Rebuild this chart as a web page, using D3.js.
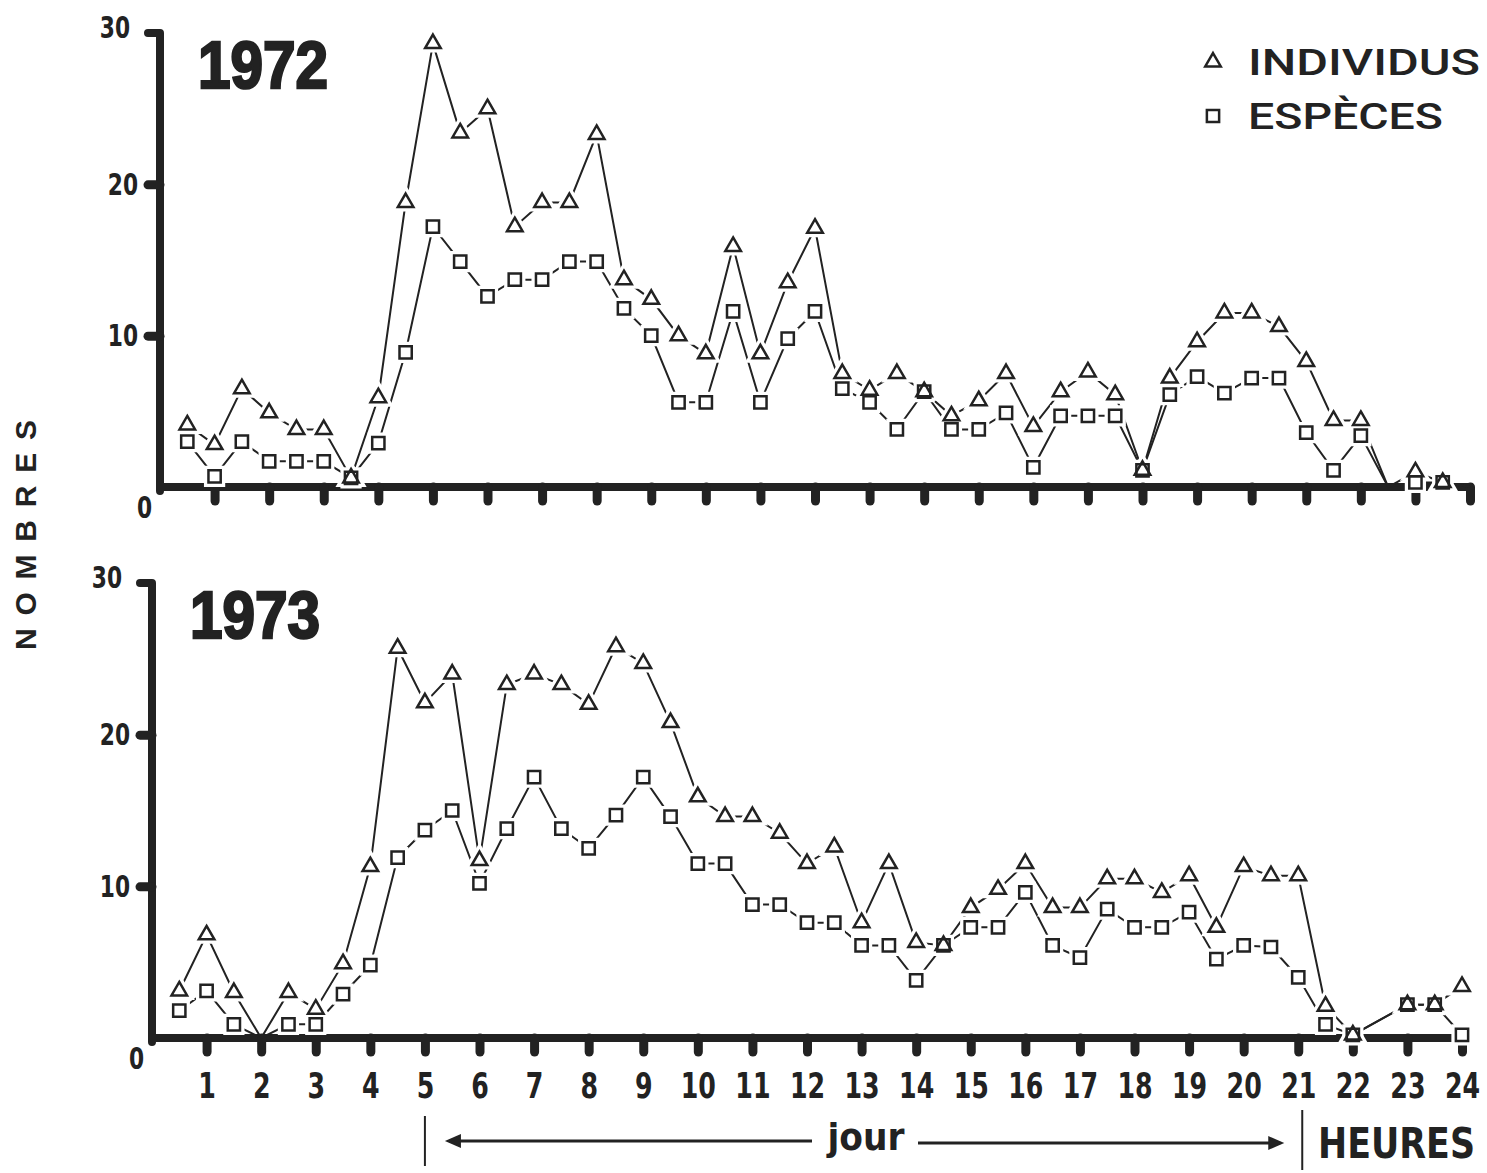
<!DOCTYPE html>
<html>
<head>
<meta charset="utf-8">
<script src="https://cdn.jsdelivr.net/npm/d3@7"></script>
<style>
  body { margin: 0; background: #fff; }
  text { fill: #222; }
</style>
</head>
<body>
<div id="chart"></div>
<script>
// half-hour sampling, 0.5 h .. 24 h
const hours = [0.5, 1, 1.5, 2, 2.5, 3, 3.5, 4, 4.5, 5, 5.5, 6, 6.5, 7, 7.5, 8,
  8.5, 9, 9.5, 10, 10.5, 11, 11.5, 12, 12.5, 13, 13.5, 14, 14.5, 15, 15.5, 16,
  16.5, 17, 17.5, 18, 18.5, 19, 19.5, 20, 20.5, 21, 21.5, 22, 22.5, 23, 23.5, 24];

const individus1972 = [4.1, 2.8, 6.5, 4.9, 3.8, 3.8, 0.6, 5.9, 18.8, 29.3, 23.4, 25.0,
  17.2, 18.8, 18.8, 23.3, 13.7, 12.4, 10.0, 8.8, 15.9, 8.8, 13.5, 17.1,
  7.5, 6.4, 7.5, 6.3, 4.7, 5.7, 7.5, 4.0, 6.3, 7.6, 6.1, 1.1,
  7.2, 9.6, 11.5, 11.5, 10.6, 8.3, 4.4, 4.4, 0, 1.0, 0.3, 0];
const especes1972 = [3.0, 0.7, 3.0, 1.7, 1.7, 1.7, 0.6, 2.9, 8.9, 17.2, 14.9, 12.6,
  13.7, 13.7, 14.9, 14.9, 11.8, 10.0, 5.6, 5.6, 11.6, 5.6, 9.8, 11.6,
  6.5, 5.6, 3.8, 6.3, 3.8, 3.8, 4.9, 1.3, 4.7, 4.7, 4.7, 1.1,
  6.1, 7.3, 6.2, 7.2, 7.2, 3.6, 1.1, 3.4, 0, 0.3, 0.3, 0];

// no reading at 22.5 h in 1973
const individus1973 = [3.1, 6.8, 3.0, 0, 3.0, 1.9, 4.9, 11.3, 25.7, 22.1, 24.0, 11.7,
  23.3, 24.0, 23.3, 22.0, 25.8, 24.7, 20.8, 15.9, 14.6, 14.6, 13.5, 11.5,
  12.6, 7.6, 11.5, 6.3, 6.1, 8.6, 9.8, 11.5, 8.6, 8.6, 10.5, 10.5,
  9.6, 10.7, 7.3, 11.3, 10.7, 10.7, 2.1, 0.2, null, 2.2, 2.2, 3.4];
const especes1973 = [1.8, 3.1, 0.9, 0, 0.9, 0.9, 2.9, 4.8, 11.9, 13.7, 15.0, 10.2,
  13.8, 17.2, 13.8, 12.5, 14.7, 17.2, 14.6, 11.5, 11.5, 8.8, 8.8, 7.6,
  7.6, 6.1, 6.1, 3.8, 6.1, 7.3, 7.3, 9.6, 6.1, 5.3, 8.5, 7.3,
  7.3, 8.3, 5.2, 6.1, 6.0, 4.0, 0.9, 0.2, null, 2.2, 2.2, 0.2];

const hourTicks = [1, 2, 3, 4, 5, 6, 7, 8, 9, 10, 11, 12, 13, 14, 15, 16, 17, 18, 19, 20, 21, 22, 23, 24];
const countTicks = [0, 10, 20, 30];
const legendLabels = ["INDIVIDUS", "ESPÈCES"];
const dayStart = 5, dayEnd = 21;

const ink = "#222";
const width = 1487, height = 1173;
const narrow = "'Liberation Sans Narrow', 'DejaVu Sans Condensed', sans-serif";
const squeeze = 0.78;   // horizontal squeeze for the condensed digits

const svg = d3.select("#chart").append("svg")
  .attr("width", width)
  .attr("height", height)
  .style("background", "#fff");

const triangle = d3.symbol(d3.symbolTriangle, 105);
const square = d3.symbol(d3.symbolSquare, 150);

function drawPanel(year, ind, esp, xr, yr, showLabels) {
  const x = d3.scaleLinear().domain([0, 24]).range(xr);
  const y = d3.scaleLinear().domain([0, 30]).range(yr);
  const g = svg.append("g");

  // x axis with stubby pegs
  const xAxis = d3.axisBottom(x).tickValues(hourTicks)
    .tickSize(14).tickSizeOuter(0).tickPadding(20)
    .tickFormat(showLabels ? d3.format("d") : "");
  const gx = g.append("g").attr("transform", "translate(0," + y(0) + ")").call(xAxis);
  gx.select(".domain").attr("stroke", ink).attr("stroke-width", 8)
    .attr("d", "M" + x(0) + ",0H" + (x(24) + 3));
  gx.selectAll(".tick line").attr("stroke", ink).attr("stroke-width", 9).attr("stroke-linecap", "round");
  gx.selectAll(".tick text")
    .style("font-family", narrow).style("font-weight", "bold").style("font-size", "36px")
    .attr("fill", ink)
    .attr("transform", "scale(" + squeeze + ",1)");

  // y axis, hooked at the top
  const yAxis = d3.axisLeft(y).tickValues(countTicks)
    .tickSize(12).tickSizeOuter(0).tickPadding(10);
  const gy = g.append("g").attr("transform", "translate(" + x(0) + ",0)").call(yAxis);
  gy.select(".domain").attr("stroke", ink).attr("stroke-width", 8)
    .attr("stroke-linejoin", "round").attr("stroke-linecap", "round")
    .attr("d", "M-12," + y(30) + "H0V" + (y(0) + 4));
  gy.selectAll(".tick line").attr("stroke", ink).attr("stroke-width", 9).attr("stroke-linecap", "round")
    .attr("display", d => (d === 0 || d === 30) ? "none" : null);
  gy.selectAll(".tick text")
    .style("font-family", narrow).style("font-weight", "bold").style("font-size", "31px")
    .attr("fill", ink)
    .attr("transform", "scale(" + squeeze + ",1)")
    .attr("x", d => (d === 0 ? -8 : d === 30 ? -30 : -22) / squeeze)
    .attr("dy", d => d === 0 ? "1.0em" : d === 30 ? "0.15em" : "0.32em");

  // year title
  g.append("text")
    .attr("x", x(0) + 38)
    .attr("y", y(30) + 55)
    .attr("textLength", 130)
    .attr("lengthAdjust", "spacingAndGlyphs")
    .style("font-family", "'Liberation Sans', Arial, sans-serif")
    .style("font-weight", "bold").style("font-size", "66px")
    .attr("stroke", ink).attr("stroke-width", 2.5)
    .text(year);

  const series = [
    { values: esp, sym: square },
    { values: ind, sym: triangle }
  ].map(s => ({
    sym: s.sym,
    pts: hours.map((h, i) => ({ h: h, v: s.values[i] })).filter(d => d.v !== null)
  }));

  const line = d3.line().x(d => x(d.h)).y(d => y(d.v));

  series.forEach(s => {
    g.append("path").datum(s.pts)
      .attr("fill", "none").attr("stroke", ink).attr("stroke-width", 2)
      .attr("d", line);
  });

  // white halo leaves a gap between line and marker
  series.forEach(s => {
    g.append("g").selectAll("path")
      .data(s.pts.filter(d => d.v > 0))
      .enter().append("path")
      .attr("transform", d => "translate(" + x(d.h) + "," + y(d.v) + ")")
      .attr("d", s.sym)
      .attr("fill", "#fff").attr("stroke", "#fff").attr("stroke-width", 9);
  });
  series.forEach(s => {
    g.append("g").selectAll("path")
      .data(s.pts.filter(d => d.v > 0))
      .enter().append("path")
      .attr("transform", d => "translate(" + x(d.h) + "," + y(d.v) + ")")
      .attr("d", s.sym)
      .attr("fill", "none").attr("stroke", ink).attr("stroke-width", 2.5);
  });

  return { x: x, y: y };
}

const panel72 = drawPanel("1972", individus1972, especes1972, [160, 1470], [487, 33], false);
const panel73 = drawPanel("1973", individus1973, especes1973, [152, 1462], [1038, 583], true);

// legend
const legendSyms = [triangle, square];
legendLabels.forEach((lab, i) => {
  const ly = 62 + i * 54;
  svg.append("path")
    .attr("transform", "translate(1213," + ly + ")")
    .attr("d", legendSyms[i])
    .attr("fill", "none").attr("stroke", ink).attr("stroke-width", 2.5);
  svg.append("text")
    .attr("x", 1248).attr("y", ly + 13)
    .attr("textLength", i === 0 ? 232 : 195)
    .attr("lengthAdjust", "spacingAndGlyphs")
    .style("font-family", "Roboto, 'Liberation Sans', sans-serif")
    .style("font-weight", 500).style("font-size", "37px")
    .text(lab);
});

// y title
svg.append("text")
  .attr("transform", "translate(36,535) rotate(-90)")
  .attr("text-anchor", "middle")
  .attr("textLength", 230)
  .attr("lengthAdjust", "spacing")
  .style("font-family", "'Liberation Sans', Arial, sans-serif")
  .style("font-weight", "bold").style("font-size", "30px")
  .text("NOMBRES");

// day span annotation under the hour axis
const bx = panel73.x;
const ann = svg.append("g").attr("stroke", ink).attr("fill", ink);
ann.append("line").attr("x1", bx(dayStart)).attr("x2", bx(dayStart)).attr("y1", 1116).attr("y2", 1166).attr("stroke-width", 2);
ann.append("line").attr("x1", bx(dayEnd) + 4).attr("x2", bx(dayEnd) + 4).attr("y1", 1110).attr("y2", 1170).attr("stroke-width", 2);
ann.append("line").attr("x1", bx(dayStart) + 24).attr("x2", 812).attr("y1", 1141).attr("y2", 1141).attr("stroke-width", 3);
ann.append("path").attr("d", "M" + (bx(dayStart) + 20) + ",1141l16,-7v14z").attr("stroke", "none");
ann.append("line").attr("x1", 918).attr("x2", bx(dayEnd) - 18).attr("y1", 1143).attr("y2", 1143).attr("stroke-width", 3);
ann.append("path").attr("d", "M" + (bx(dayEnd) - 14) + ",1143l-16,-7v14z").attr("stroke", "none");

svg.append("text")
  .attr("x", 866).attr("y", 1150)
  .attr("text-anchor", "middle")
  .attr("textLength", 77)
  .attr("lengthAdjust", "spacingAndGlyphs")
  .style("font-family", narrow).style("font-weight", "bold").style("font-size", "38px")
  .text("jour");

svg.append("text")
  .attr("x", 1318).attr("y", 1158)
  .attr("textLength", 157)
  .attr("lengthAdjust", "spacingAndGlyphs")
  .style("font-family", narrow).style("font-weight", "bold").style("font-size", "42px")
  .text("HEURES");
</script>
</body>
</html>
